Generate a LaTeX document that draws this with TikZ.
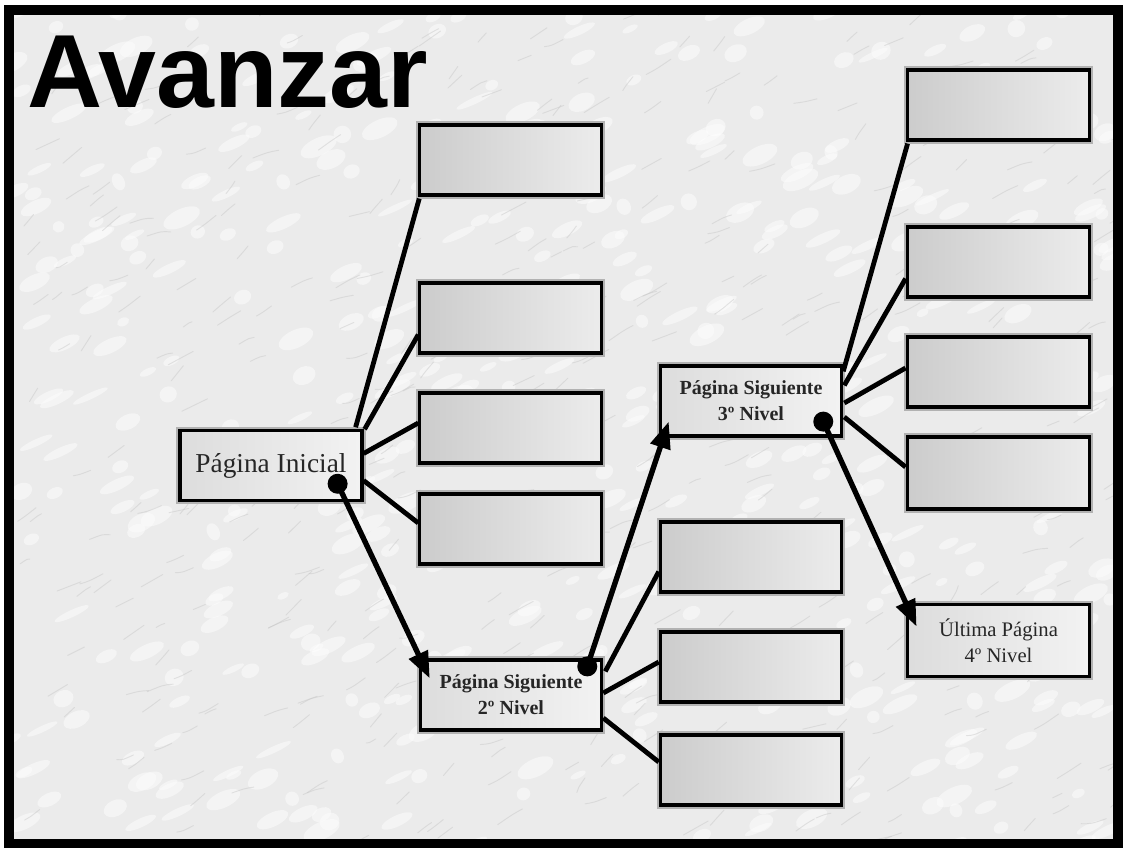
\documentclass[tikz,border=0pt]{standalone}
\usepackage{fontspec}
\setmainfont{Liberation Serif}
\newfontfamily\titlef{Liberation Sans}
\usetikzlibrary{arrows.meta,calc}
\tikzset{
  box/.style={draw=black, line width=2.4pt, left color=gray!40, right color=gray!15,
    preaction={draw=gray!60, line width=5.4pt},
    minimum width=136pt, minimum height=52.5pt, inner sep=0pt, align=center, text=black!85},
  tbox/.style={box, left color=gray!27, right color=gray!10},
  link/.style={line width=3.6pt, black},
  jump/.style={line width=4pt, black, -{Triangle[length=20pt,width=15pt]}},
  dotnode/.style={circle, fill=black, minimum size=15pt, inner sep=0pt},
  grain/.style={gray!45, line width=0.7pt, line cap=round, opacity=0.45},
  blot/.style={white, opacity=0.45},
}
\begin{document}
\begin{tikzpicture}[x=0.75pt,y=-0.75pt]
\useasboundingbox (0,0) rectangle (1127,848);
\fill[white] (0,0) rectangle (1127,848);
\fill[gray!16] (9,10) rectangle (1118,844);
% marble texture
\begin{scope}
\clip (9,10) rectangle (1118,844);
\pgfmathsetseed{11}
\foreach \i in {1,...,500} {
  \pgfmathsetmacro{\px}{10+1108*rnd}
  \pgfmathsetmacro{\py}{10+834*rnd}
  \pgfmathsetmacro{\rx}{6+14*rnd}
  \pgfmathsetmacro{\ry}{3+6*rnd}
  \fill[blot, rotate around={25:(\px,\py)}] (\px,\py) ellipse[x radius=\rx, y radius=\ry];
}
\foreach \i in {1,...,450} {
  \pgfmathsetmacro{\px}{10+1108*rnd}
  \pgfmathsetmacro{\py}{10+834*rnd}
  \pgfmathsetmacro{\dx}{8+18*rnd}
  \pgfmathsetmacro{\dy}{-4-12*rnd}
  \pgfmathsetmacro{\cx}{6*rnd-3}
  \draw[grain] (\px,\py) .. controls ($(\px,\py)+(\dx/2+\cx,\dy/2-\cx)$) .. ++(\dx,\dy);
}
\end{scope}
\draw[line width=7.5pt] (9,10) rectangle (1118,844);
\node[anchor=base west, inner sep=0pt, font=\titlef\bfseries\fontsize{78}{82}\selectfont] (title) at (27,108) {Avanzar};

% column 1
\node[tbox, minimum width=136.5pt, minimum height=52pt, font=\fontsize{20.5}{24}\selectfont] (ini) at (271,465.5) {Página Inicial};
\node[box] (c1a) at (510.5,160) {};
\node[box] (c1b) at (510.5,318) {};
\node[box] (c1c) at (510.5,428) {};
\node[box] (c1d) at (510.5,529) {};
% column 2
\node[tbox, font=\bfseries\fontsize{15}{19.5}\selectfont] (s2) at (511,695) {Página Siguiente\\2º Nivel};
\node[box] (c2a) at (751,557) {};
\node[box] (c2b) at (751,667) {};
\node[box] (c2c) at (751,770) {};
% column 3
\node[tbox, font=\bfseries\fontsize{15}{19.5}\selectfont] (s3) at (751,401) {Página Siguiente\\3º Nivel};
\node[box, minimum width=137pt] (c3a) at (998.5,105) {};
\node[box, minimum width=137pt] (c3b) at (998.5,262) {};
\node[box, minimum width=137pt] (c3c) at (998.5,372) {};
\node[box, minimum width=137pt, minimum height=54pt] (c3d) at (998.5,473) {};
\node[tbox, minimum width=137pt, minimum height=54.5pt, font=\fontsize{15.5}{19.5}\selectfont] (ult) at (998.5,640.5) {Última Página\\4º Nivel};

% links from Página Inicial
\draw[link] ($(ini.north east)+(-8,-2)$) -- ($(c1a.south west)+(1,2)$);
\draw[link] ($(ini.north east)+(1,0)$) -- ($(c1b.south west)+(0,-20)$);
\draw[link] ($(ini.east)+(0,-12)$) -- ($(c1c.west)+(0,-5)$);
\draw[link] ($(ini.east)+(0,15)$) -- ($(c1d.west)+(0,-6)$);
% links from 2nd level
\draw[link] ($(s2.north east)+(2,13)$) -- ($(c2a.south west)+(0,-22)$);
\draw[link] ($(s2.east)+(0,-2)$) -- ($(c2b.west)+(0,-5)$);
\draw[link] ($(s2.east)+(0,23)$) -- ($(c2c.west)+(0,-8)$);
% links from 3rd level
\draw[link] ($(s3.north east)+(0,7)$) -- ($(c3a.south west)+(2,2)$);
\draw[link] ($(s3.north east)+(1,21)$) -- ($(c3b.south west)+(0,-20)$);
\draw[link] ($(s3.east)+(1,2)$) -- ($(c3c.west)+(0,-4)$);
\draw[link] ($(s3.east)+(1,16)$) -- ($(c3d.west)+(0,-6)$);

% navigation arrows
\node[dotnode] (d1) at ($(ini.south east)+(-26,-18)$) {};
\node[dotnode] (d2) at ($(s2.north east)+(-16,8)$) {};
\node[dotnode] (d3) at ($(s3.south east)+(-20,-16)$) {};
\draw[jump] (d1.center) -- ($(s2.north west)+(11,20)$);
\draw[jump] (d2.center) -- ($(s3.south west)+(10,-16)$);
\draw[jump] (d3.center) -- ($(ult.north west)+(11,24)$);
\end{tikzpicture}
\end{document}
